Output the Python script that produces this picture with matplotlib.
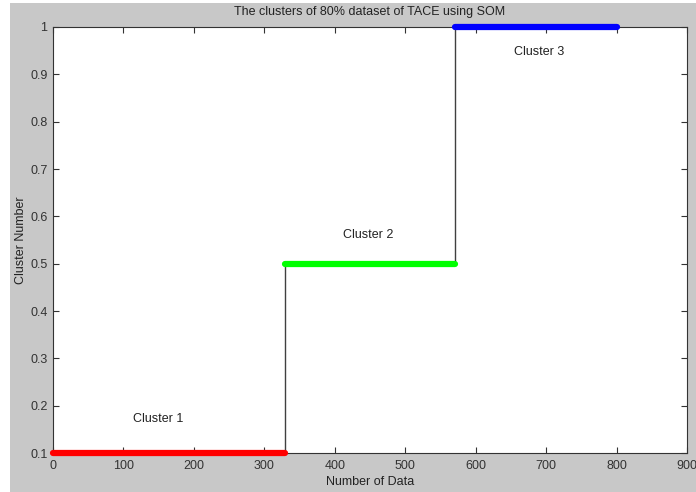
import matplotlib
matplotlib.use("Agg")
import matplotlib.pyplot as plt
from matplotlib.patches import Rectangle
import numpy as np

plt.rcParams['font.family'] = ['Liberation Sans', 'DejaVu Sans']

# Data
cluster_values = [0.1, 0.5, 1.0]
cluster_ends = [330, 570, 800]
cluster_colors = ['#ff0000', '#00ff00', '#0000ff']
cluster_names = ['Cluster 1', 'Cluster 2', 'Cluster 3']
label_x = [150, 448, 690]
label_y = [0.172, 0.56, 0.948]
xticks = [0, 100, 200, 300, 400, 500, 600, 700, 800, 900]
yticks = [0.1, 0.2, 0.3, 0.4, 0.5, 0.6, 0.7, 0.8, 0.9, 1.0]
ytick_labels = ['0.1', '0.2', '0.3', '0.4', '0.5', '0.6', '0.7', '0.8', '0.9', '1']

W, H = 696, 492
fig = plt.figure(figsize=(W / 100, H / 100), dpi=100, facecolor='white')
fig.patches.append(Rectangle((10 / W, 0), 1, 1 - 3 / H, transform=fig.transFigure,
                             facecolor='#c8c8c8', edgecolor='none', zorder=-10))
ax = fig.add_axes([53 / W, (H - 453) / H, (687 - 53) / W, (453 - 27) / H])
ax.set_facecolor('white')

# Build step series
starts = [0] + cluster_ends[:-1]
xs, ys = [], []
for s, e, v in zip(starts, cluster_ends, cluster_values):
    xs += [s, e]
    ys += [v, v]
ax.plot(xs, ys, color='#404040', lw=1.0, zorder=2)
for s, e, v, c in zip(starts, cluster_ends, cluster_values, cluster_colors):
    ax.plot([s, e], [v, v], color=c, lw=4.5, solid_capstyle='round', zorder=3, clip_on=False)

for name, lx, ly in zip(cluster_names, label_x, label_y):
    ax.text(lx, ly, name, ha='center', va='center', fontsize=9, color='#222222')

ax.set_xlim(0, 900)
ax.set_ylim(0.1, 1.0)
ax.set_xticks(xticks)
ax.set_yticks(yticks)
ax.set_yticklabels(ytick_labels)
ax.tick_params(direction='in', top=True, right=True, length=4, width=0.8,
               labelsize=9, labelcolor='#333333', color='#333333')
ax.tick_params(axis='x', pad=5)
ax.tick_params(axis='y', pad=4)
for sp in ax.spines.values():
    sp.set_color('#333333')
    sp.set_linewidth(0.8)

ax.set_title('The clusters of 80% dataset of TACE using SOM', fontsize=9, color='#222222', pad=9)
ax.set_xlabel('Number of Data', fontsize=9, color='#222222', labelpad=3)
ax.set_ylabel('Cluster Number', fontsize=9, color='#222222', labelpad=2)

fig.savefig('out.png', dpi=100, facecolor=fig.get_facecolor())
